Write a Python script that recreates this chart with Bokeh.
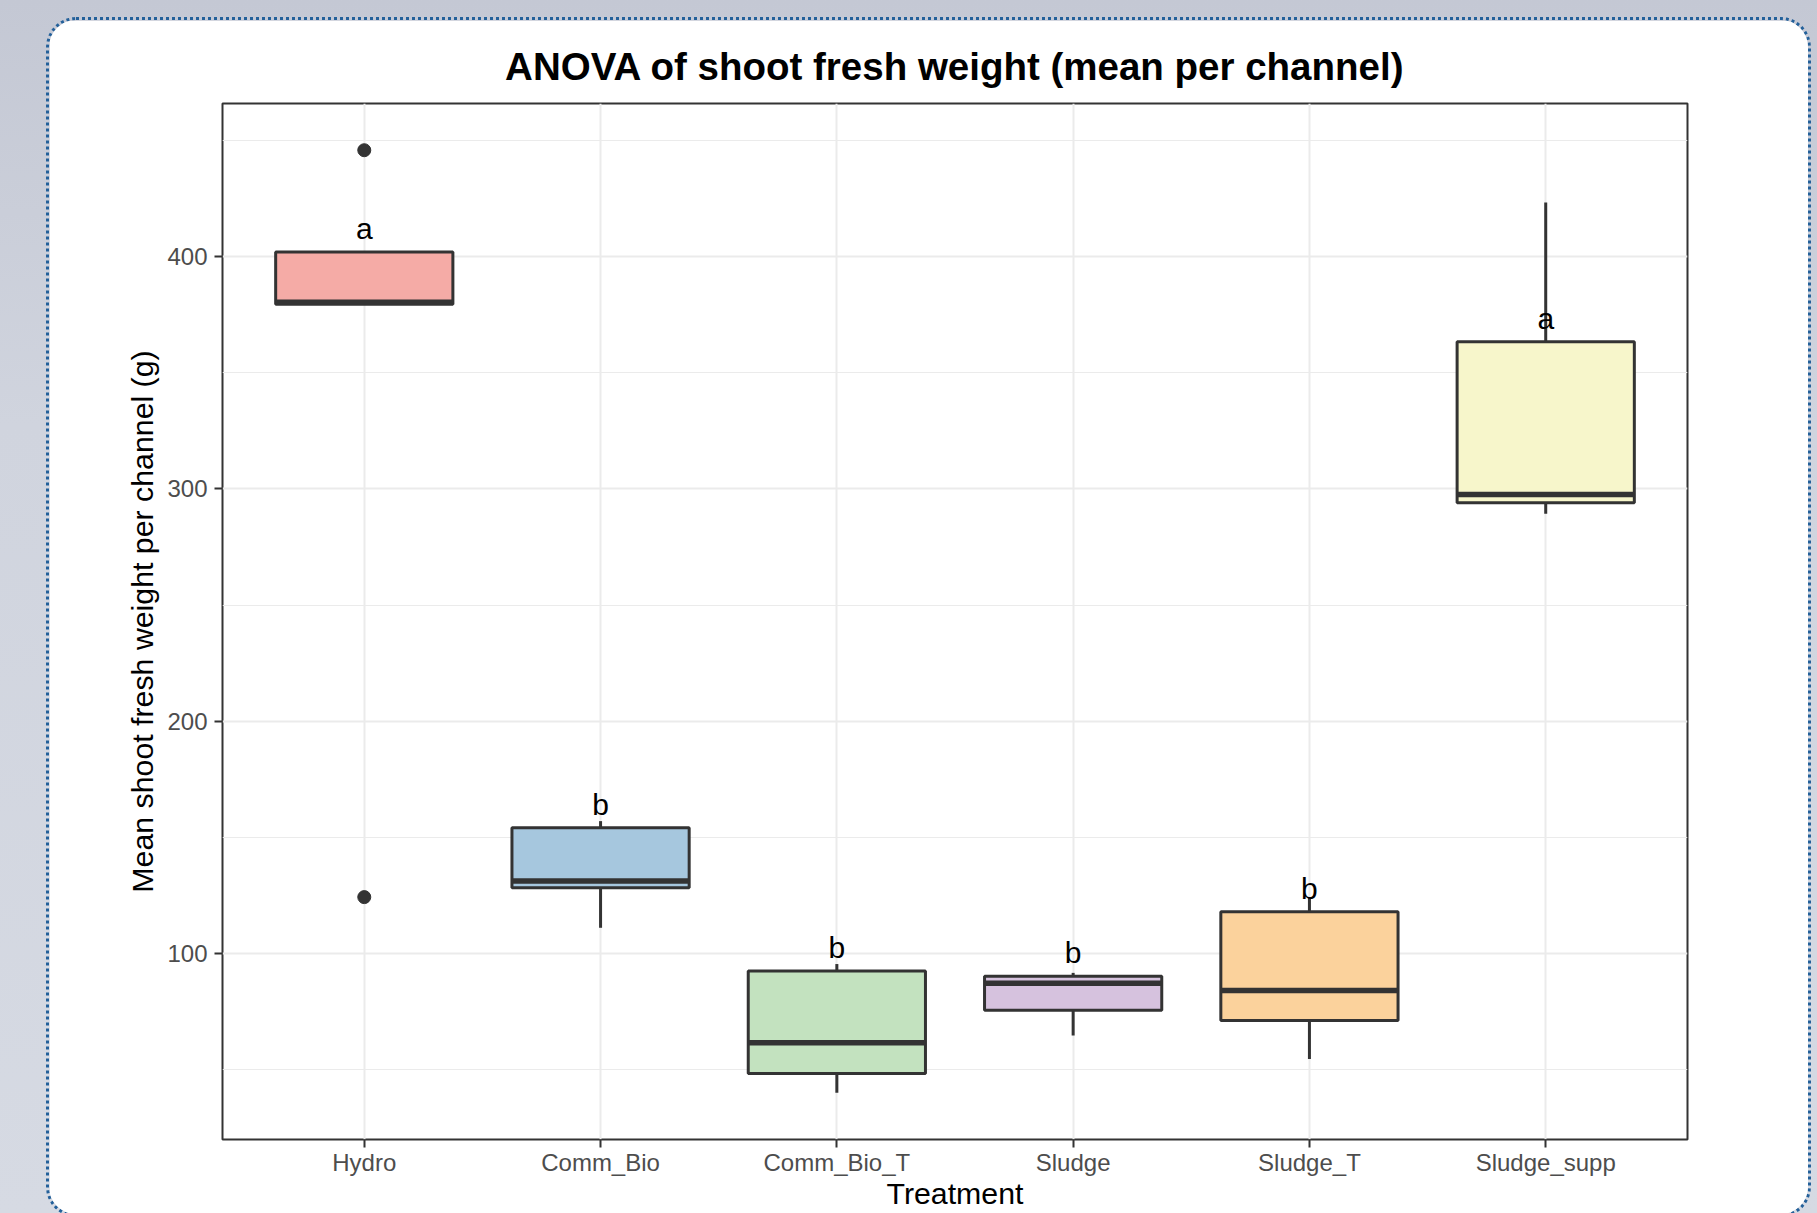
from bokeh.plotting import figure
from bokeh.layouts import column
from bokeh.models import FactorRange, Range1d, FixedTicker, ColumnDataSource
from bokeh.transform import dodge
from bokeh.core.properties import value
from bokeh.embed import file_html
from bokeh.resources import INLINE

# ---- data ----
cats = ["Hydro", "Comm_Bio", "Comm_Bio_T", "Sludge", "Sludge_T", "Sludge_supp"]
q1 = [379.4, 128.3, 48.4, 75.6, 71.2, 294.0]
med = [380.3, 131.2, 61.6, 87.2, 84.1, 297.6]
q3 = [401.9, 154.1, 92.5, 90.3, 118.0, 363.3]
lower = [379.4, 111.1, 40.1, 64.8, 54.6, 289.3]
upper = [401.9, 157.0, 95.5, 91.7, 124.0, 423.2]
outlier_cat = ["Hydro", "Hydro"]
outlier_val = [445.7, 124.3]
letters = ["a", "b", "b", "b", "b", "a"]
fills = ["#f5aba6", "#a6c7de", "#c3e2bf", "#d6c2de", "#fbd29c", "#f7f6cb"]
y_major = [100, 200, 300, 400]
y_minor = [50, 150, 250, 350, 450]

FONT = "Liberation Sans"
DARK = "#333333"

src = ColumnDataSource(dict(cat=cats, q1=q1, med=med, q3=q3, lower=lower, upper=upper,
                            fill=fills, letter=letters, ly=[v + 5 for v in q3]))

p = figure(x_range=FactorRange(factors=cats, range_padding=0.1, range_padding_units="absolute"),
           y_range=Range1d(20.0, 465.8),
           width=1765, height=1200, output_backend="svg", toolbar_location=None,
           title="ANOVA of shoot fresh weight (mean per channel)",
           min_border_left=173, min_border_right=127, min_border_top=83, min_border_bottom=81)

p.background_fill_color = "white"
p.border_fill_color = "white"
p.outline_line_color = DARK
p.outline_line_width = 2

# title
p.title.text_font = FONT
p.title.text_font_size = "38.5px"
p.title.text_font_style = "bold"
p.title.text_color = "black"
p.title.align = "center"
p.title.standoff = 31

# grids
ticker = FixedTicker(ticks=y_major, minor_ticks=y_minor)
p.yaxis.ticker = ticker
p.ygrid.ticker = ticker
p.ygrid.grid_line_color = "#ebebeb"
p.ygrid.grid_line_width = 2
p.ygrid.minor_grid_line_color = "#ebebeb"
p.ygrid.minor_grid_line_width = 1.2
p.xgrid.grid_line_color = "#ebebeb"
p.xgrid.grid_line_width = 2

# axes
for ax in (p.xaxis[0], p.yaxis[0]):
    ax.axis_line_color = None
    ax.major_tick_line_color = DARK
    ax.major_tick_line_width = 2
    ax.major_tick_out = 8
    ax.major_tick_in = 0
    ax.minor_tick_line_color = None
    ax.major_label_text_font = FONT
    ax.major_label_text_font_size = "24px"
    ax.major_label_text_color = "#4d4d4d"
    ax.axis_label_text_font = FONT
    ax.axis_label_text_font_size = "30.3px"
    ax.axis_label_text_font_style = "normal"
    ax.axis_label_text_color = "black"

p.xaxis.axis_label = "Treatment"
p.xaxis.major_label_standoff = 1
p.xaxis.axis_label_standoff = -2
p.yaxis.axis_label = "Mean shoot fresh weight per channel (g)"
p.yaxis.major_label_standoff = 7
p.yaxis.axis_label_standoff = 5

# whiskers
p.segment(x0="cat", y0="q3", x1="cat", y1="upper", source=src, line_color=DARK, line_width=3)
p.segment(x0="cat", y0="q1", x1="cat", y1="lower", source=src, line_color=DARK, line_width=3)
# boxes
p.vbar(x="cat", top="q3", bottom="q1", width=0.75, source=src,
       fill_color="fill", line_color=DARK, line_width=3)
# medians
p.segment(x0=dodge("cat", -0.375, range=p.x_range), x1=dodge("cat", 0.375, range=p.x_range),
          y0="med", y1="med", source=src, line_color=DARK, line_width=5.5)
# outliers
p.scatter(x=outlier_cat, y=outlier_val, size=13, color=DARK)
# significance letters
p.text(x="cat", y="ly", text="letter", source=src, text_align="center", text_baseline="alphabetic",
       y_offset=-12, text_font=value(FONT), text_font_size="30px", text_color="black")

p.margin = (17, 0, 0, 46)
p.styles = {"border": "3px dotted #23609a", "border-radius": "30px", "overflow": "hidden"}

root = column(p, width=1817, height=1213,
              styles={"overflow": "hidden",
                      "background": "linear-gradient(180deg, #c4c8d4 0%, #d0d4de 35%, #d6dae3 100%)"})

open("out.html", "w").write(file_html(root, INLINE))
